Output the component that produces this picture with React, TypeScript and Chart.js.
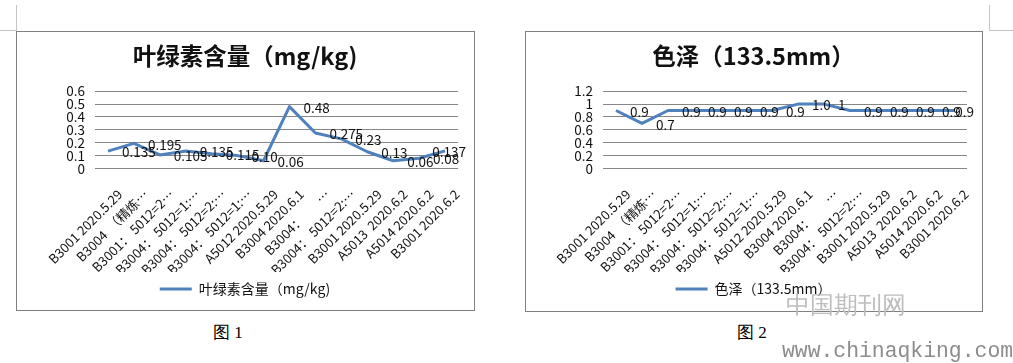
import React, { useEffect, useRef } from 'react';
import { Chart, registerables } from 'chart.js';

Chart.register(...registerables);

// ---------- data ----------
const categories: string[] = [
  'B3001 2020.5.29',
  'B3004  （精炼…',
  'B3001： 5012=2…',
  'B3004： 5012=1:…',
  'B3004： 5012=2:…',
  'B3004： 5012=1:…',
  'A5012 2020.5.29',
  'B3004 2020.6.1',
  'B3004：\u3000\u3000 …',
  'B3004： 5012=2:…',
  'B3001 2020.5.29',
  'A5013  2020.6.2',
  'A5014 2020.6.2',
  'B3001 2020.6.2',
];

const chlorophyllValues: number[] = [0.135, 0.195, 0.105, 0.135, 0.115, 0.1, 0.06, 0.48, 0.275, 0.23, 0.13, 0.06, 0.08, 0.137];
const chlorophyllText: string[] = ['0.135', '0.195', '0.105', '0.135', '0.115', '0.10', '0.06', '0.48', '0.275', '0.23', '0.13', '0.06', '0.08', '0.137'];
const chlorophyllTicks: number[] = [0, 0.1, 0.2, 0.3, 0.4, 0.5, 0.6];
const chlorophyllTitle = '叶绿素含量（mg/kg)';

const colorValues: number[] = [0.9, 0.7, 0.9, 0.9, 0.9, 0.9, 0.9, 1.0, 1.0, 0.9, 0.9, 0.9, 0.9, 0.9];
const colorText: string[] = ['0.9', '0.7', '0.9', '0.9', '0.9', '0.9', '0.9', '1.0', '1', '0.9', '0.9', '0.9', '0.9', '0.9'];
const colorTicks: number[] = [0, 0.2, 0.4, 0.6, 0.8, 1, 1.2];
const colorTitle = '色泽（133.5mm）';

const captions: string[] = ['图 1', '图 2'];

// ---------- style ----------
const SANS = "'Noto Sans CJK SC', 'Noto Sans', sans-serif";
const LINE_BLUE = '#4F81BD';
const GRID = '#868686';
const TEXT = '#111111';

function makeValueLabelPlugin(texts: string[]) {
  return {
    id: 'valueLabels',
    afterDatasetsDraw(chart: any) {
      const ctx = chart.ctx;
      const meta = chart.getDatasetMeta(0);
      ctx.save();
      ctx.font = `13.5px ${SANS}`;
      ctx.fillStyle = TEXT;
      ctx.textAlign = 'left';
      ctx.textBaseline = 'middle';
      meta.data.forEach((pt: any, i: number) => {
        const t = texts[i];
        const w = ctx.measureText(t).width;
        let x = pt.x + 14;
        x = Math.min(x, chart.width - 7 - w);
        ctx.fillText(t, x, pt.y + 1);
      });
      ctx.restore();
    },
  };
}

type ChartProps = {
  left: number;
  top: number;
  width: number;
  height: number;
  title: string;
  values: number[];
  texts: string[];
  ticks: number[];
  yWidth: number;
  padRight: number;
};

function LineChart(p: ChartProps) {
  const ref = useRef<HTMLCanvasElement>(null);
  useEffect(() => {
    if (!ref.current) return;
    const yMin = p.ticks[0];
    const yMax = p.ticks[p.ticks.length - 1];
    const chart = new Chart(ref.current, {
      type: 'line',
      data: {
        labels: categories,
        datasets: [
          {
            label: p.title,
            data: p.values,
            borderColor: LINE_BLUE,
            backgroundColor: LINE_BLUE,
            borderWidth: 3,
            pointRadius: 0,
            tension: 0,
            borderJoinStyle: 'round',
            yAxisID: 'y',
          },
        ],
      },
      options: {
        responsive: false,
        animation: false,
        devicePixelRatio: 1,
        layout: { padding: { left: 0, right: 0, top: 0, bottom: 4 } },
        plugins: {
          title: {
            display: true,
            text: p.title,
            color: TEXT,
            font: { family: SANS, size: 23.5, weight: 'bold' },
            padding: { top: 10, bottom: 21 },
          },
          legend: {
            position: 'bottom',
            labels: {
              usePointStyle: true,
              pointStyle: 'line',
              pointStyleWidth: 32,
              color: TEXT,
              font: { family: SANS, size: 14 },
              padding: 10,
            },
          },
          tooltip: { enabled: false },
        },
        scales: {
          x: {
            offset: true,
            grid: { display: false },
            border: { display: false },
            ticks: {
              autoSkip: false,
              minRotation: 45,
              maxRotation: 45,
              color: TEXT,
              font: { family: SANS, size: 13 },
              padding: 10,
              labelOffset: 12,
            },
            afterFit: (s: any) => {
              s.height = 103.5;
            },
          },
          y: {
            min: yMin,
            max: yMax,
            grid: { color: GRID, lineWidth: 1, drawTicks: false },
            border: { display: false },
            ticks: {
              autoSkip: false,
              color: TEXT,
              font: { family: SANS, size: 13.5, lineHeight: 1 },
              padding: 10,
              callback: (v: any) => String(Math.round(Number(v) * 10) / 10),
            },
            afterBuildTicks: (s: any) => {
              s.ticks = p.ticks.map((v) => ({ value: v }));
            },
            afterFit: (s: any) => {
              s.width = p.yWidth;
            },
          },
          // empty right-hand spacer so that the plot ends where the reference's does
          spacer: {
            type: 'linear',
            position: 'right',
            min: yMin,
            max: yMax,
            grid: { display: false, drawOnChartArea: false },
            border: { display: false },
            ticks: { display: false },
            afterFit: (s: any) => {
              s.width = p.padRight;
            },
          },
        },
      },
      plugins: [makeValueLabelPlugin(p.texts)],
    } as any);
    return () => chart.destroy();
  }, []);
  return (
    <canvas
      ref={ref}
      width={p.width}
      height={p.height}
      style={{ position: 'absolute', left: p.left, top: p.top, width: p.width, height: p.height }}
    />
  );
}

export default function App() {
  const abs = (s: React.CSSProperties): React.CSSProperties => ({ position: 'absolute', ...s });
  return (
    <div
      style={{
        position: 'fixed',
        left: 0,
        top: 0,
        width: 1013,
        height: 363,
        background: '#ffffff',
        overflow: 'hidden',
      }}
    >
      {/* page corner marks */}
      <div style={abs({ left: 16, top: 5, width: 1, height: 26, background: '#c4c4c4' })} />
      <div style={abs({ left: 0, top: 30, width: 16, height: 1, background: '#c4c4c4' })} />
      <div style={abs({ left: 989, top: 5, width: 1, height: 26, background: '#c4c4c4' })} />
      <div style={abs({ left: 989, top: 30, width: 24, height: 1, background: '#c4c4c4' })} />

      {/* chart frames */}
      <div style={abs({ left: 16, top: 31, width: 459, height: 280, border: '1px solid #808080', boxSizing: 'border-box' })} />
      <div style={abs({ left: 525, top: 31, width: 458, height: 281, border: '1px solid #808080', boxSizing: 'border-box' })} />

      <LineChart
        left={17}
        top={32}
        width={456}
        height={278}
        title={chlorophyllTitle}
        values={chlorophyllValues}
        texts={chlorophyllText}
        ticks={chlorophyllTicks}
        yWidth={78}
        padRight={15}
      />
      <LineChart
        left={526}
        top={32}
        width={455}
        height={278}
        title={colorTitle}
        values={colorValues}
        texts={colorText}
        ticks={colorTicks}
        yWidth={77}
        padRight={14}
      />

      {/* captions */}
      <div style={abs({ left: 213, top: 322, fontFamily: 'serif', fontSize: 17, lineHeight: '22px', color: '#000' })}>{captions[0]}</div>
      <div style={abs({ left: 737, top: 322, fontFamily: 'serif', fontSize: 17, lineHeight: '22px', color: '#000' })}>{captions[1]}</div>

      {/* watermark */}
      <div style={abs({ left: 786, top: 290, fontFamily: 'serif', fontSize: 24, lineHeight: '30px', color: '#bdbdbd', whiteSpace: 'nowrap' })}>中国期刊网</div>
      <div style={abs({ left: 782, top: 337, fontFamily: "'Liberation Mono', monospace", fontSize: 21.4, lineHeight: '28px', color: '#8c8c8c', whiteSpace: 'nowrap' })}>www.chinaqking.com</div>
    </div>
  );
}
